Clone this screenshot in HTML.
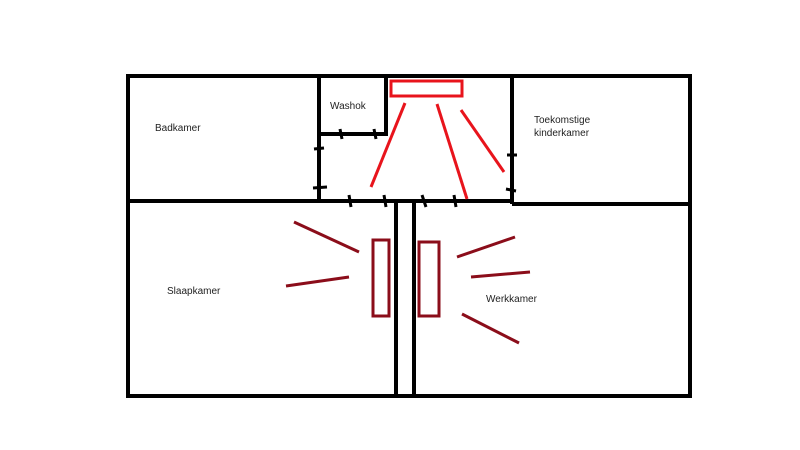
<!DOCTYPE html>
<html><head><meta charset="utf-8"><style>body{margin:0;background:#fff}svg{display:block}text{font-family:"Liberation Sans",sans-serif;font-size:10px;fill:#222}</style></head><body>
<svg width="800" height="450" viewBox="0 0 800 450">
<g stroke="#000" stroke-width="4" fill="none">
<rect x="128" y="76" width="562" height="320"/>
<line x1="128" y1="201" x2="512" y2="201"/>
<line x1="512" y1="204" x2="690" y2="204"/>
<line x1="319" y1="76" x2="319" y2="201"/>
<polyline points="319,134 386,134 386,76"/>
<line x1="512" y1="76" x2="512" y2="204"/>
<line x1="396" y1="201" x2="396" y2="396"/>
<line x1="414" y1="201" x2="414" y2="396"/>
</g>
<g stroke="#000" stroke-width="3">
<line x1="340" y1="129" x2="342" y2="139"/>
<line x1="374" y1="129" x2="376" y2="139"/>
<line x1="314" y1="149" x2="324" y2="148"/>
<line x1="313" y1="188" x2="327" y2="187"/>
<line x1="349" y1="195" x2="351" y2="207"/>
<line x1="384" y1="195" x2="386" y2="207"/>
<line x1="422" y1="195" x2="426" y2="207"/>
<line x1="454" y1="195" x2="456" y2="207"/>
<line x1="507" y1="155" x2="517" y2="155"/>
<line x1="506" y1="189" x2="516" y2="191"/>
</g>
<g stroke="#e8141c" stroke-width="3" fill="none">
<rect x="391" y="81" width="71" height="15"/>
<line x1="405" y1="103" x2="371" y2="187"/>
<line x1="437" y1="104" x2="467" y2="199"/>
<line x1="461" y1="110" x2="504" y2="172"/>
</g>
<g stroke="#8b0d1a" stroke-width="3" fill="none">
<rect x="373" y="240" width="16" height="76"/>
<rect x="419" y="242" width="20" height="74"/>
<line x1="294" y1="222" x2="359" y2="252"/>
<line x1="286" y1="286" x2="349" y2="277"/>
<line x1="457" y1="257" x2="515" y2="237"/>
<line x1="471" y1="277" x2="530" y2="272"/>
<line x1="462" y1="314" x2="519" y2="343"/>
</g>
<text x="155" y="131">Badkamer</text>
<text x="330" y="109">Washok</text>
<text x="534" y="123">Toekomstige</text>
<text x="534" y="136">kinderkamer</text>
<text x="167" y="294">Slaapkamer</text>
<text x="486" y="302">Werkkamer</text>
</svg>
</body></html>
